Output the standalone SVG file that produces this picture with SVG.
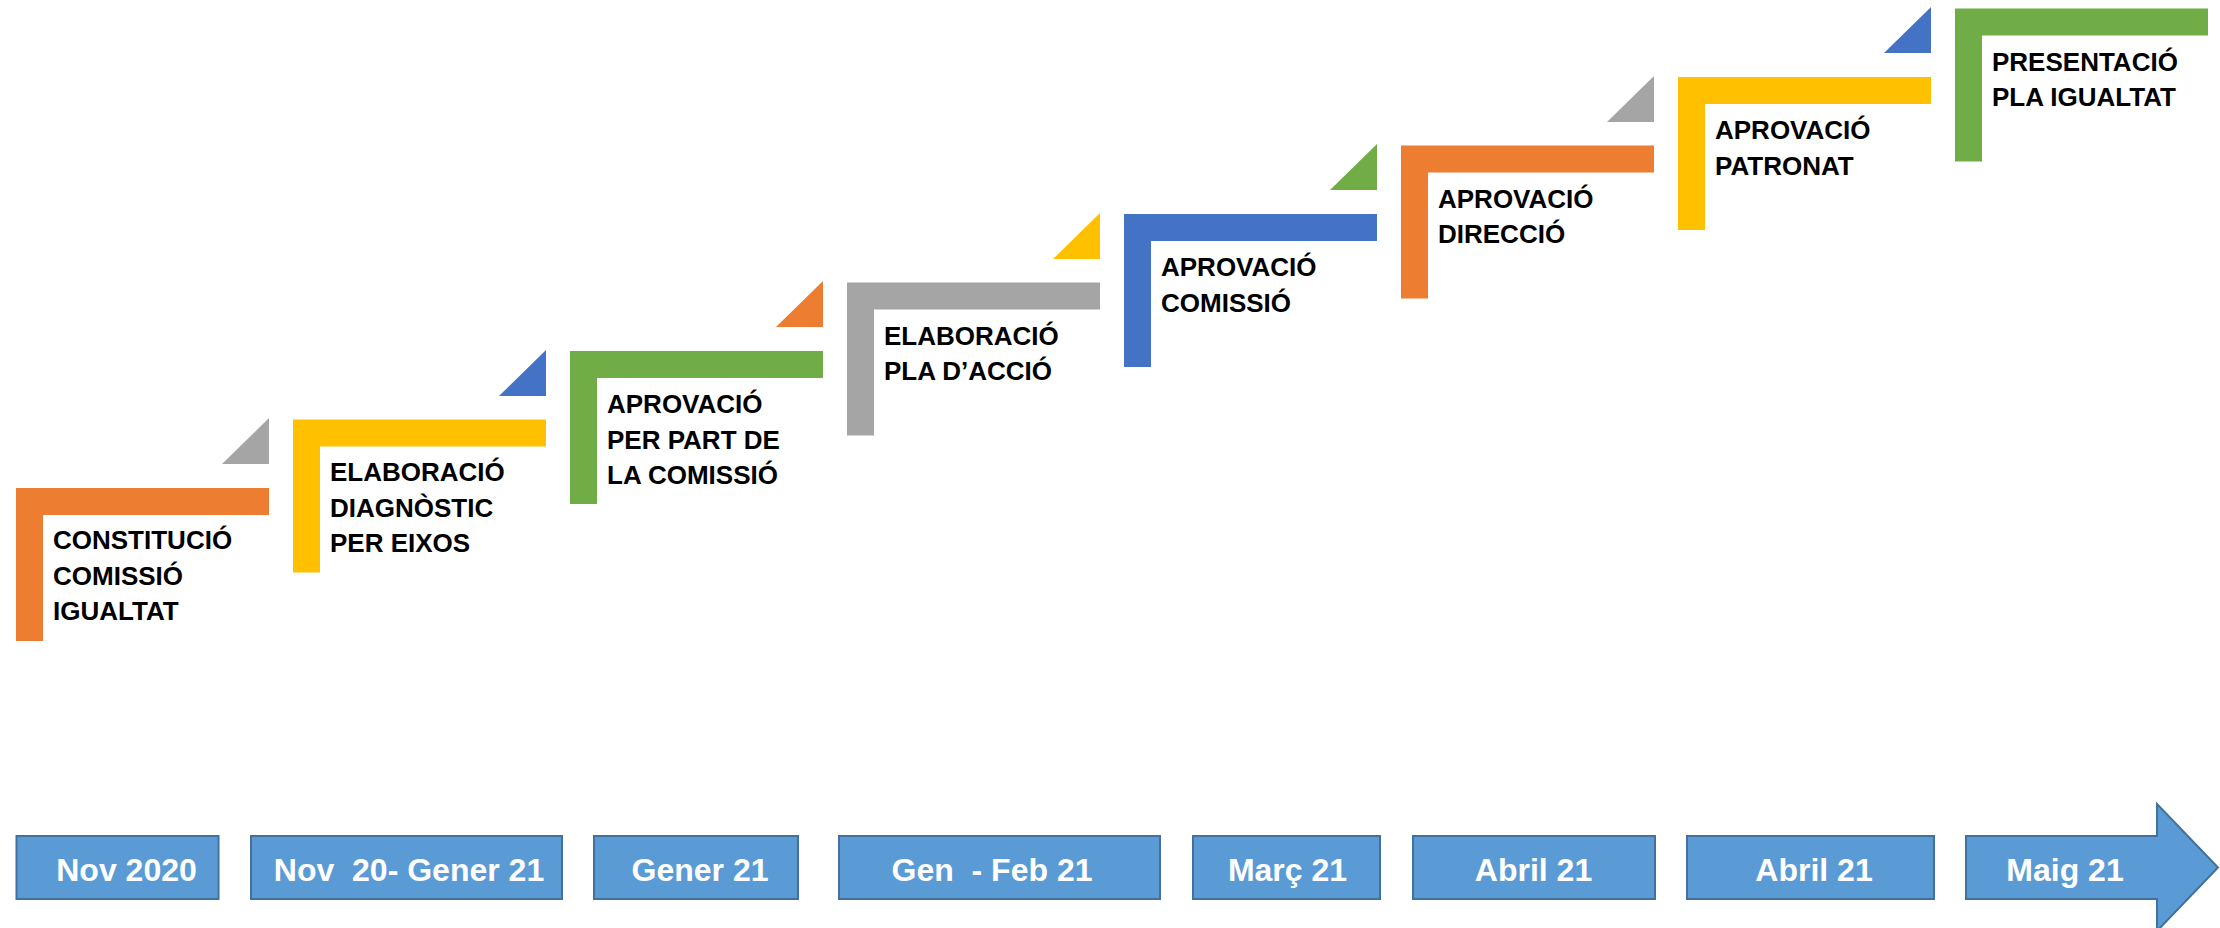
<svg xmlns="http://www.w3.org/2000/svg" width="2220" height="928" viewBox="0 0 2220 928">
<style>
.lbl{font-family:"Liberation Sans",Arial,sans-serif;font-weight:bold;font-size:26px;fill:#000}
.dt{font-family:"Liberation Sans",Arial,sans-serif;font-weight:bold;font-size:32px;fill:#fff;text-anchor:middle;white-space:pre}
.bx{fill:#5B9BD5;stroke:#41719C;stroke-width:2}
.or{fill:#ED7D31}.ye{fill:#FFC000}.gr{fill:#70AD47}.gy{fill:#A5A5A5}.bl{fill:#4472C4}
</style>
<rect width="2220" height="928" fill="#fff"/>
<g id="connectors">
<polygon class="gy" points="222,464 269,464 269,418"/>
<polygon class="bl" points="499,396 546,396 546,350"/>
<polygon class="or" points="776,327 823,327 823,281"/>
<polygon class="ye" points="1053,259 1100,259 1100,213"/>
<polygon class="gr" points="1330,190 1377,190 1377,144"/>
<polygon class="gy" points="1607,122 1654,122 1654,76"/>
<polygon class="bl" points="1884,53 1931,53 1931,7"/>
</g>
<g id="step1">
<path class="or" d="M16,488 H269 V515 H43 V641 H16 Z"/>
<text class="lbl" x="53" y="549">CONSTITUCIÓ</text>
<text class="lbl" x="53" y="584.5">COMISSIÓ</text>
<text class="lbl" x="53" y="620">IGUALTAT</text>
</g>
<g id="step2">
<path class="ye" d="M293,419.5 H546 V446.5 H320 V572.5 H293 Z"/>
<text class="lbl" x="330" y="481">ELABORACIÓ</text>
<text class="lbl" x="330" y="516.5">DIAGNÒSTIC</text>
<text class="lbl" x="330" y="552">PER EIXOS</text>
</g>
<g id="step3">
<path class="gr" d="M570,351 H823 V378 H597 V504 H570 Z"/>
<text class="lbl" x="607" y="413">APROVACIÓ</text>
<text class="lbl" x="607" y="448.5">PER PART DE</text>
<text class="lbl" x="607" y="484">LA COMISSIÓ</text>
</g>
<g id="step4">
<path class="gy" d="M847,282.5 H1100 V309.5 H874 V435.5 H847 Z"/>
<text class="lbl" x="884" y="344.5">ELABORACIÓ</text>
<text class="lbl" x="884" y="380">PLA D’ACCIÓ</text>
</g>
<g id="step5">
<path class="bl" d="M1124,214 H1377 V241 H1151 V367 H1124 Z"/>
<text class="lbl" x="1161" y="276">APROVACIÓ</text>
<text class="lbl" x="1161" y="311.5">COMISSIÓ</text>
</g>
<g id="step6">
<path class="or" d="M1401,145.5 H1654 V172.5 H1428 V298.5 H1401 Z"/>
<text class="lbl" x="1438" y="207.5">APROVACIÓ</text>
<text class="lbl" x="1438" y="243">DIRECCIÓ</text>
</g>
<g id="step7">
<path class="ye" d="M1678,77 H1931 V104 H1705 V230 H1678 Z"/>
<text class="lbl" x="1715" y="139">APROVACIÓ</text>
<text class="lbl" x="1715" y="174.5">PATRONAT</text>
</g>
<g id="step8">
<path class="gr" d="M1955,8.5 H2208 V35.5 H1982 V161.5 H1955 Z"/>
<text class="lbl" x="1992" y="70.5">PRESENTACIÓ</text>
<text class="lbl" x="1992" y="106">PLA IGUALTAT</text>
</g>
<g id="date1"><rect class="bx" x="16.5" y="836" width="202" height="63"/><text class="dt" x="126.5" y="881">Nov 2020</text></g>
<g id="date2"><rect class="bx" x="251" y="836" width="311" height="63"/><text class="dt" x="409" y="881" xml:space="preserve">Nov  20- Gener 21</text></g>
<g id="date3"><rect class="bx" x="594" y="836" width="204" height="63"/><text class="dt" x="700" y="881">Gener 21</text></g>
<g id="date4"><rect class="bx" x="839" y="836" width="321" height="63"/><text class="dt" x="992" y="881" xml:space="preserve">Gen  - Feb 21</text></g>
<g id="date5"><rect class="bx" x="1193" y="836" width="187" height="63"/><text class="dt" x="1287.5" y="881">Març 21</text></g>
<g id="date6"><rect class="bx" x="1413" y="836" width="242" height="63"/><text class="dt" x="1533.5" y="881">Abril 21</text></g>
<g id="date7"><rect class="bx" x="1687" y="836" width="247" height="63"/><text class="dt" x="1814" y="881">Abril 21</text></g>
<g id="date8"><path class="bx" d="M1966,836 H2157 V804 L2218,867.5 L2157,931 V899 H1966 Z"/><text class="dt" x="2065" y="881">Maig 21</text></g>
</svg>
